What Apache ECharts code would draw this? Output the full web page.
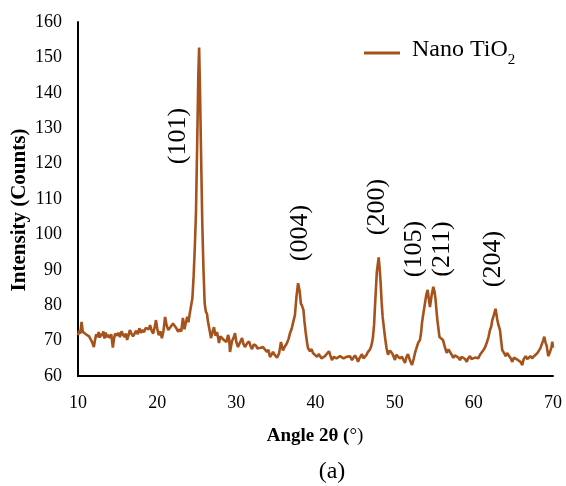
<!DOCTYPE html>
<html>
<head>
<meta charset="utf-8">
<script src="https://cdn.jsdelivr.net/npm/echarts@6/dist/echarts.min.js"></script>
<style>
html, body { margin: 0; padding: 0; background: #fff; }
#chart { width: 566px; height: 486px; }
</style>
</head>
<body>
<div id="chart"></div>
<script>
// XRD scan: [angle 2θ, intensity]
var scan = [
	[10.0,71.5],[10.15,72.8],[10.3,72.0],[10.45,75.3],[10.6,72.5],[10.8,72.2],[11.0,71.8],[11.2,72.0],
	[11.4,71.2],[11.6,71.0],[11.8,69.5],[12.0,68.2],[12.15,70.2],[12.3,71.8],[12.45,71.0],[12.6,72.4],
	[12.75,70.8],[12.9,72.0],[13.05,71.3],[13.2,72.6],[13.35,70.6],[13.5,72.3],[13.65,71.0],[13.8,71.6],
	[14.0,70.8],[14.2,71.8],[14.4,68.0],[14.55,70.6],[14.7,72.0],[14.9,71.4],[15.1,72.2],[15.3,71.0],
	[15.5,72.6],[15.7,71.6],[15.9,71.0],[16.05,72.0],[16.2,70.2],[16.4,71.6],[16.55,73.0],[16.75,72.0],
	[16.95,71.2],[17.15,72.0],[17.35,72.8],[17.55,71.8],[17.75,73.5],[17.95,72.2],[18.15,73.0],[18.35,72.4],
	[18.55,73.6],[18.75,74.0],[18.95,73.2],[19.1,74.4],[19.3,72.8],[19.5,72.0],[19.7,74.0],[19.85,75.8],
	[20.0,73.5],[20.2,71.5],[20.4,72.6],[20.6,70.7],[20.8,72.8],[21.0,76.7],[21.2,74.3],[21.4,73.0],
	[21.6,72.8],[21.8,74.2],[22.0,74.8],[22.25,75.2],[22.45,73.4],[22.65,72.5],[22.85,73.2],[23.05,72.6],
	[23.25,76.4],[23.45,73.2],[23.6,74.8],[23.8,76.7],[23.95,75.2],[24.1,77.4],[24.3,77.8],
	[24.45,82],[24.6,88],[24.75,96],[24.9,106],[25.05,125],[25.2,145],[25.3,152.8],[25.4,142],
	[25.55,122],[25.7,103],[25.85,90],[26.0,80.5],[26.15,78.2],[26.3,77.5],[26.42,75.3],[26.6,73.2],
	[26.8,70.7],[27.0,72.5],[27.18,73.8],[27.36,71.4],[27.56,72.4],[27.7,70.8],[27.81,69.3],[28.0,71.2],
	[28.19,71.0],[28.4,70.2],[28.57,70.7],[28.75,69.6],[28.95,71.6],[29.1,70.4],[29.2,66.8],[29.45,69.8],
	[29.65,70.8],[29.83,72.1],[30.0,69.6],[30.21,68.2],[30.45,69.4],[30.72,70.7],[30.9,69.0],[31.09,68.2],
	[31.35,69.2],[31.6,69.8],[31.8,68.4],[31.98,67.6],[32.2,68.9],[32.48,68.6],[32.65,67.8],[32.86,67.3],
	[33.1,68.0],[33.37,68.2],[33.6,67.5],[33.87,66.8],[34.05,67.4],[34.25,65.4],[34.45,66.0],[34.63,66.8],
	[34.9,65.8],[35.14,65.2],[35.4,66.4],[35.64,69.6],[35.89,67.2],[36.15,68.4],[36.4,69.3],[36.6,70.5],
	[36.78,72.1],[37.0,73.4],[37.16,75.0],[37.4,77.2],[37.6,82.5],[37.8,86.2],[38.0,84.0],[38.15,80.5],
	[38.3,79.8],[38.48,78.6],[38.6,75.5],[38.75,72.5],[38.93,69.5],[39.05,67.9],[39.3,67.0],[39.5,67.6],
	[39.68,66.5],[39.9,66.0],[40.19,65.4],[40.4,66.2],[40.57,65.8],[40.75,65.0],[40.95,64.5],[41.2,65.6],
	[41.45,65.8],[41.7,67.0],[41.9,65.6],[42.08,64.5],[42.3,65.4],[42.46,65.8],[42.65,65.0],[42.84,64.9],
	[43.1,65.6],[43.35,65.8],[43.55,65.0],[43.72,64.5],[43.9,65.4],[44.1,65.0],[44.35,65.6],[44.61,64.5],
	[44.8,65.2],[44.99,65.8],[45.2,65.0],[45.37,64.0],[45.6,65.2],[45.87,66.2],[46.05,65.0],[46.25,65.4],
	[46.45,66.0],[46.63,66.8],[46.85,67.4],[47.01,68.2],[47.15,69.5],[47.26,71.0],[47.4,74.5],[47.51,79.5],
	[47.63,84.5],[47.75,89.5],[47.98,93.5],[48.1,90.5],[48.23,86.3],[48.35,81.0],[48.48,76.7],[48.62,74.0],
	[48.78,71.0],[48.97,67.9],[49.16,66.0],[49.4,67.2],[49.66,66.5],[49.85,65.6],[50.04,64.5],[50.2,66.0],
	[50.42,66.2],[50.65,65.0],[50.93,65.4],[51.1,64.6],[51.3,63.7],[51.5,65.4],[51.68,66.2],[51.9,64.6],
	[52.05,64.2],[52.19,63.1],[52.4,64.8],[52.57,66.5],[52.75,66.0],[52.95,69.3],[53.1,68.8],[53.2,70.2],
	[53.35,72.5],[53.45,75.0],[53.65,78.0],[53.83,80.6],[54.0,83.0],[54.17,84.3],[54.3,82.0],[54.46,79.5],
	[54.65,82.5],[54.88,85.2],[55.02,84.0],[55.16,81.8],[55.3,78.0],[55.41,75.5],[55.55,73.0],[55.66,71.0],
	[55.85,70.5],[56.1,70.2],[56.3,68.5],[56.57,66.5],[56.8,67.5],[56.99,67.0],[57.2,66.0],[57.41,65.1],
	[57.6,65.8],[57.83,66.0],[58.05,65.2],[58.25,64.5],[58.45,65.4],[58.67,65.0],[58.9,64.8],[59.1,64.0],
	[59.3,65.0],[59.51,65.6],[59.7,64.8],[59.93,64.5],[60.15,65.2],[60.36,65.6],[60.55,65.0],[60.78,66.0],
	[61.0,66.4],[61.19,67.3],[61.4,68.0],[61.62,69.3],[61.85,71.0],[62.04,73.0],[62.2,74.0],[62.33,75.8],
	[62.5,77.0],[62.74,79.0],[62.85,77.5],[62.97,75.8],[63.1,74.5],[63.3,73.0],[63.45,70.0],[63.59,67.3],
	[63.8,66.6],[64.02,65.6],[64.2,66.5],[64.44,66.0],[64.65,65.0],[64.86,64.0],[65.05,65.2],[65.28,65.6],
	[65.5,64.6],[65.7,64.8],[65.9,64.0],[66.12,63.1],[66.3,64.8],[66.55,65.6],[66.75,64.8],[66.97,64.6],
	[67.15,65.6],[67.38,65.0],[67.6,65.6],[67.81,66.0],[68.0,66.4],[68.23,66.9],[68.4,67.8],[68.57,68.3],
	[68.75,70.0],[68.9,71.1],[69.05,69.5],[69.2,68.5],[69.4,65.6],[69.62,66.8],[69.8,68.0],[69.91,69.7],
	[70.0,68.0]
];
var peakLabels = ['(101)', '(004)', '(200)', '(105)', '(211)', '(204)'];
var seriesName = 'Nano TiO2';

var serif = "'Liberation Serif', 'Times New Roman', serif";
var lineColor = '#A5521B';
// centres of the rotated peak labels (px)
var labelSpots = [[178, 136], [300, 233], [377, 207], [414, 249], [442, 249], [493, 259]];

var graphics = [];
for (var i = 0; i < peakLabels.length; i++) {
	graphics.push({
		type: 'text',
		x: labelSpots[i][0],
		y: labelSpots[i][1],
		rotation: Math.PI / 2,
		style: {
			text: peakLabels[i],
			fontFamily: serif,
			fontSize: 26,
			fill: '#000',
			align: 'center',
			verticalAlign: 'middle'
		}
	});
}
graphics.push({		// y axis title
	type: 'text', x: 20, y: 210, rotation: Math.PI / 2,
	style: {
		text: 'Intensity (Counts)', fontFamily: serif, fontSize: 21, fontWeight: 'bold',
		fill: '#000', align: 'center', verticalAlign: 'middle'
	}
});
graphics.push({		// x axis title
	type: 'text', x: 315, y: 436,
	style: {
		text: '{b|Angle 2θ (}{n|°)}', fill: '#000', align: 'center', verticalAlign: 'middle',
		rich: {
			b: { fontFamily: serif, fontSize: 19, fontWeight: 'bold', fill: '#000' },
			n: { fontFamily: serif, fontSize: 19, fill: '#000' }
		}
	}
});
graphics.push({		// panel tag
	type: 'text', x: 332, y: 472,
	style: { text: '(a)', fontFamily: serif, fontSize: 24, fill: '#000', align: 'center', verticalAlign: 'middle' }
});

var chart = echarts.init(document.getElementById('chart'));
chart.setOption({
	animation: false,
	backgroundColor: '#fff',
	grid: { left: 78, right: 13, top: 22, bottom: 110 },
	legend: {
		data: [{ name: seriesName, icon: 'rect' }],
		left: 359,
		top: 33,
		itemWidth: 36,
		itemHeight: 3,
		formatter: function() { return '{m|Nano TiO}{s|2}'; },
		textStyle: {
			color: '#000',
			rich: {
				m: { fontFamily: serif, fontSize: 24, color: '#000', lineHeight: 26, verticalAlign: 'top', padding: [0, 0, 0, 7] },
				s: { fontFamily: serif, fontSize: 15, color: '#000', lineHeight: 30, verticalAlign: 'bottom' }
			}
		}
	},
	xAxis: {
		type: 'value', min: 10, max: 70, interval: 10,
		axisLine: { show: true, lineStyle: { color: '#000', width: 2 } },
		axisTick: { show: false },
		splitLine: { show: false },
		axisLabel: { fontFamily: serif, fontSize: 18, color: '#000', margin: 18 }
	},
	yAxis: {
		type: 'value', min: 60, max: 160, interval: 10,
		axisLine: { show: true, lineStyle: { color: '#000', width: 2 } },
		axisTick: { show: false },
		splitLine: { show: false },
		axisLabel: { fontFamily: serif, fontSize: 18, color: '#000', margin: 16 }
	},
	series: [{
		name: seriesName,
		type: 'line',
		data: scan,
		symbol: 'none',
		showSymbol: false,
		lineStyle: { color: lineColor, width: 2.6 },
		itemStyle: { color: lineColor }
	}],
	graphic: graphics
});
</script>
</body>
</html>
